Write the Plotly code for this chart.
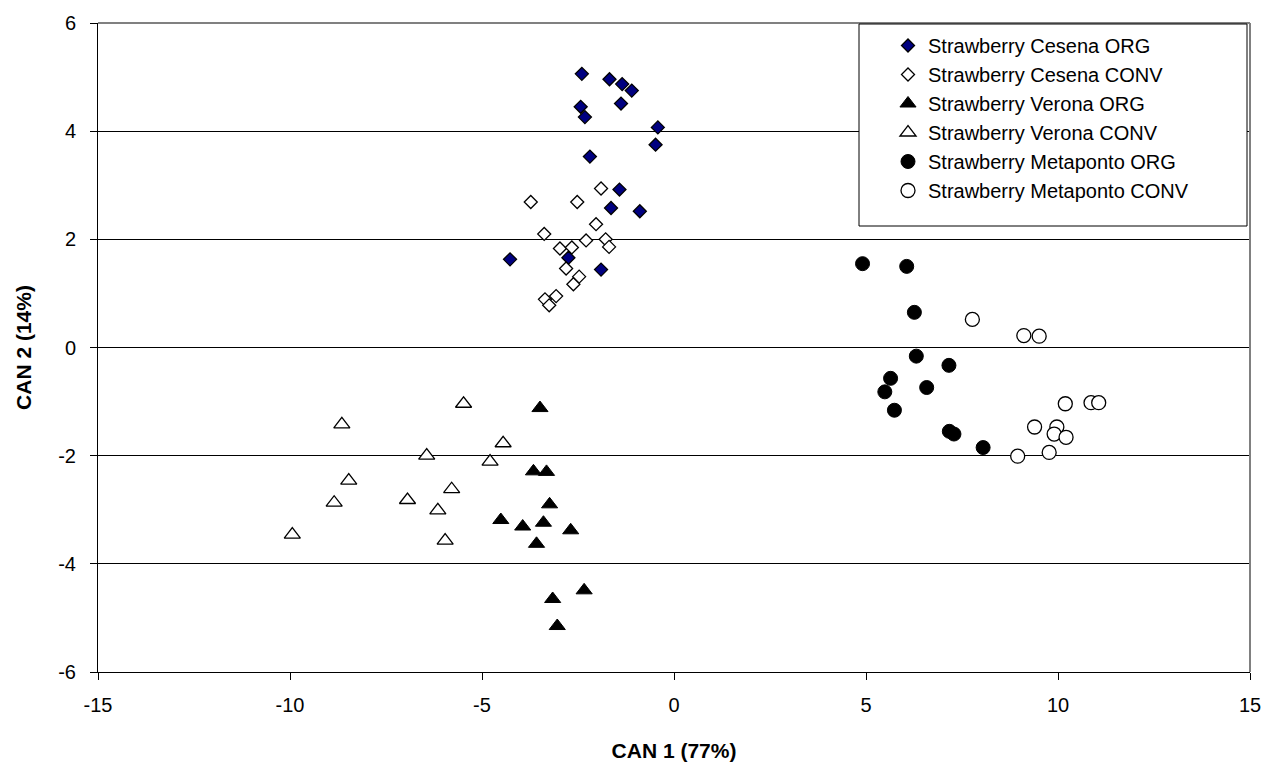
import plotly.graph_objects as go

# Strawberry Cesena ORG
ces_org_x = [-2.40, -1.68, -1.35, -1.10, -1.38, -2.43, -2.32, -0.42, -0.48, -2.19, -1.42, -1.64, -0.89, -4.27, -2.75, -1.90]
ces_org_y = [5.06, 4.96, 4.87, 4.75, 4.51, 4.45, 4.26, 4.07, 3.75, 3.53, 2.92, 2.58, 2.52, 1.63, 1.66, 1.44]
# Strawberry Cesena CONV
ces_conv_x = [-1.90, -3.73, -2.52, -2.03, -3.38, -2.29, -1.78, -1.69, -2.97, -2.66, -2.81, -2.47, -2.62, -3.07, -3.36, -3.25]
ces_conv_y = [2.94, 2.69, 2.69, 2.28, 2.10, 1.98, 2.00, 1.86, 1.83, 1.85, 1.46, 1.31, 1.17, 0.95, 0.89, 0.78]
# Strawberry Verona ORG
ver_org_x = [-3.49, -3.66, -3.32, -3.24, -4.51, -3.94, -3.40, -2.69, -3.58, -2.34, -3.16, -3.04]
ver_org_y = [-1.12, -2.29, -2.30, -2.90, -3.19, -3.31, -3.24, -3.38, -3.63, -4.49, -4.65, -5.15]
# Strawberry Verona CONV
ver_conv_x = [-5.48, -8.65, -4.45, -6.44, -4.79, -8.47, -5.79, -8.85, -6.94, -6.15, -9.94, -5.96]
ver_conv_y = [-1.04, -1.42, -1.77, -2.00, -2.11, -2.46, -2.62, -2.87, -2.82, -3.01, -3.46, -3.57]
# Strawberry Metaponto ORG
met_org_x = [4.91, 6.06, 6.26, 6.31, 7.16, 5.64, 6.58, 5.49, 5.74, 7.17, 7.29, 8.05]
met_org_y = [1.55, 1.50, 0.65, -0.16, -0.33, -0.57, -0.74, -0.82, -1.16, -1.55, -1.60, -1.85]
# Strawberry Metaponto CONV
met_conv_x = [7.77, 9.11, 9.51, 10.19, 10.86, 11.06, 9.39, 9.97, 9.90, 10.21, 9.77, 8.95]
met_conv_y = [0.52, 0.22, 0.21, -1.04, -1.02, -1.02, -1.47, -1.47, -1.60, -1.66, -1.94, -2.01]

series_names = ["Strawberry Cesena ORG", "Strawberry Cesena CONV", "Strawberry Verona ORG",
                "Strawberry Verona CONV", "Strawberry Metaponto ORG", "Strawberry Metaponto CONV"]

x_ticks = [-15, -10, -5, 0, 5, 10, 15]
y_ticks = [-6, -4, -2, 0, 2, 4, 6]

styles = [
    dict(symbol="diamond", size=10, color="#000080", line=dict(color="black", width=1.3)),
    dict(symbol="diamond", size=10, color="white", line=dict(color="black", width=1.3)),
    dict(symbol="triangle-up", size=14, color="black", line=dict(color="black", width=1)),
    dict(symbol="triangle-up", size=14, color="white", line=dict(color="black", width=1.3)),
    dict(symbol="circle", size=14, color="black", line=dict(color="black", width=1)),
    dict(symbol="circle", size=14, color="white", line=dict(color="black", width=1.3)),
]

data = [(ces_org_x, ces_org_y), (ces_conv_x, ces_conv_y), (ver_org_x, ver_org_y),
        (ver_conv_x, ver_conv_y), (met_org_x, met_org_y), (met_conv_x, met_conv_y)]

fig = go.Figure()
for name, (xs, ys), st in zip(series_names, data, styles):
    fig.add_trace(go.Scatter(x=xs, y=ys, mode="markers", name=name, marker=st))

font_family = "Liberation Sans, Arial, sans-serif"
L, R, T, B = 98, 17, 23, 92
PW, PH = 1267 - L - R, 764 - T - B

def px2paper_x(px):
    return (px - L) / PW

def px2paper_y(py):
    return (764 - B - py) / PH

fig.update_layout(
    width=1267, height=764,
    margin=dict(l=L, r=R, t=T, b=B, autoexpand=False),
    paper_bgcolor="white", plot_bgcolor="white",
    font=dict(family=font_family, size=20, color="black"),
    showlegend=True,
    legend=dict(x=px2paper_x(888), y=px2paper_y(26), xanchor="left", yanchor="top",
                bgcolor="rgba(0,0,0,0)", borderwidth=0,
                font=dict(size=20, family=font_family, color="black"),
                tracegroupgap=0),
    xaxis=dict(range=[-15, 15], tickvals=x_ticks, ticktext=[str(v) for v in x_ticks],
               automargin=False,
               showgrid=False, zeroline=False, showline=True, linecolor="black", linewidth=1,
               ticks="outside", ticklen=7, tickcolor="black", ticklabelstandoff=8,
               tickfont=dict(size=20),
               title=dict(text="<b>CAN 1 (77%)</b>", font=dict(size=21), standoff=28)),
    yaxis=dict(range=[-6, 6], tickvals=y_ticks, ticktext=[str(v) for v in y_ticks],
               automargin=False,
               showgrid=True, gridcolor="black", gridwidth=1, zeroline=False,
               showline=True, linecolor="black", linewidth=1,
               ticks="outside", ticklen=7, tickcolor="black", ticklabelstandoff=10,
               tickfont=dict(size=20),
               title=dict(text="<b>CAN 2 (14%)</b>", font=dict(size=21), standoff=20)),
)

# grey frame on top and right like the original
fig.add_shape(type="line", xref="paper", yref="paper", x0=0, x1=1, y0=1, y1=1,
              line=dict(color="#808080", width=2), layer="above")
fig.add_shape(type="line", xref="paper", yref="paper", x0=1, x1=1, y0=0, y1=1,
              line=dict(color="#808080", width=2), layer="above")
# legend box
fig.add_shape(type="rect", xref="paper", yref="paper",
              x0=px2paper_x(859), x1=px2paper_x(1247), y0=px2paper_y(226), y1=px2paper_y(24),
              line=dict(color="black", width=1), fillcolor="white", layer="above")

fig.write_html("out.html", config={"displayModeBar": False},
               post_script="document.body.style.margin='0';document.body.style.overflow='hidden';")
